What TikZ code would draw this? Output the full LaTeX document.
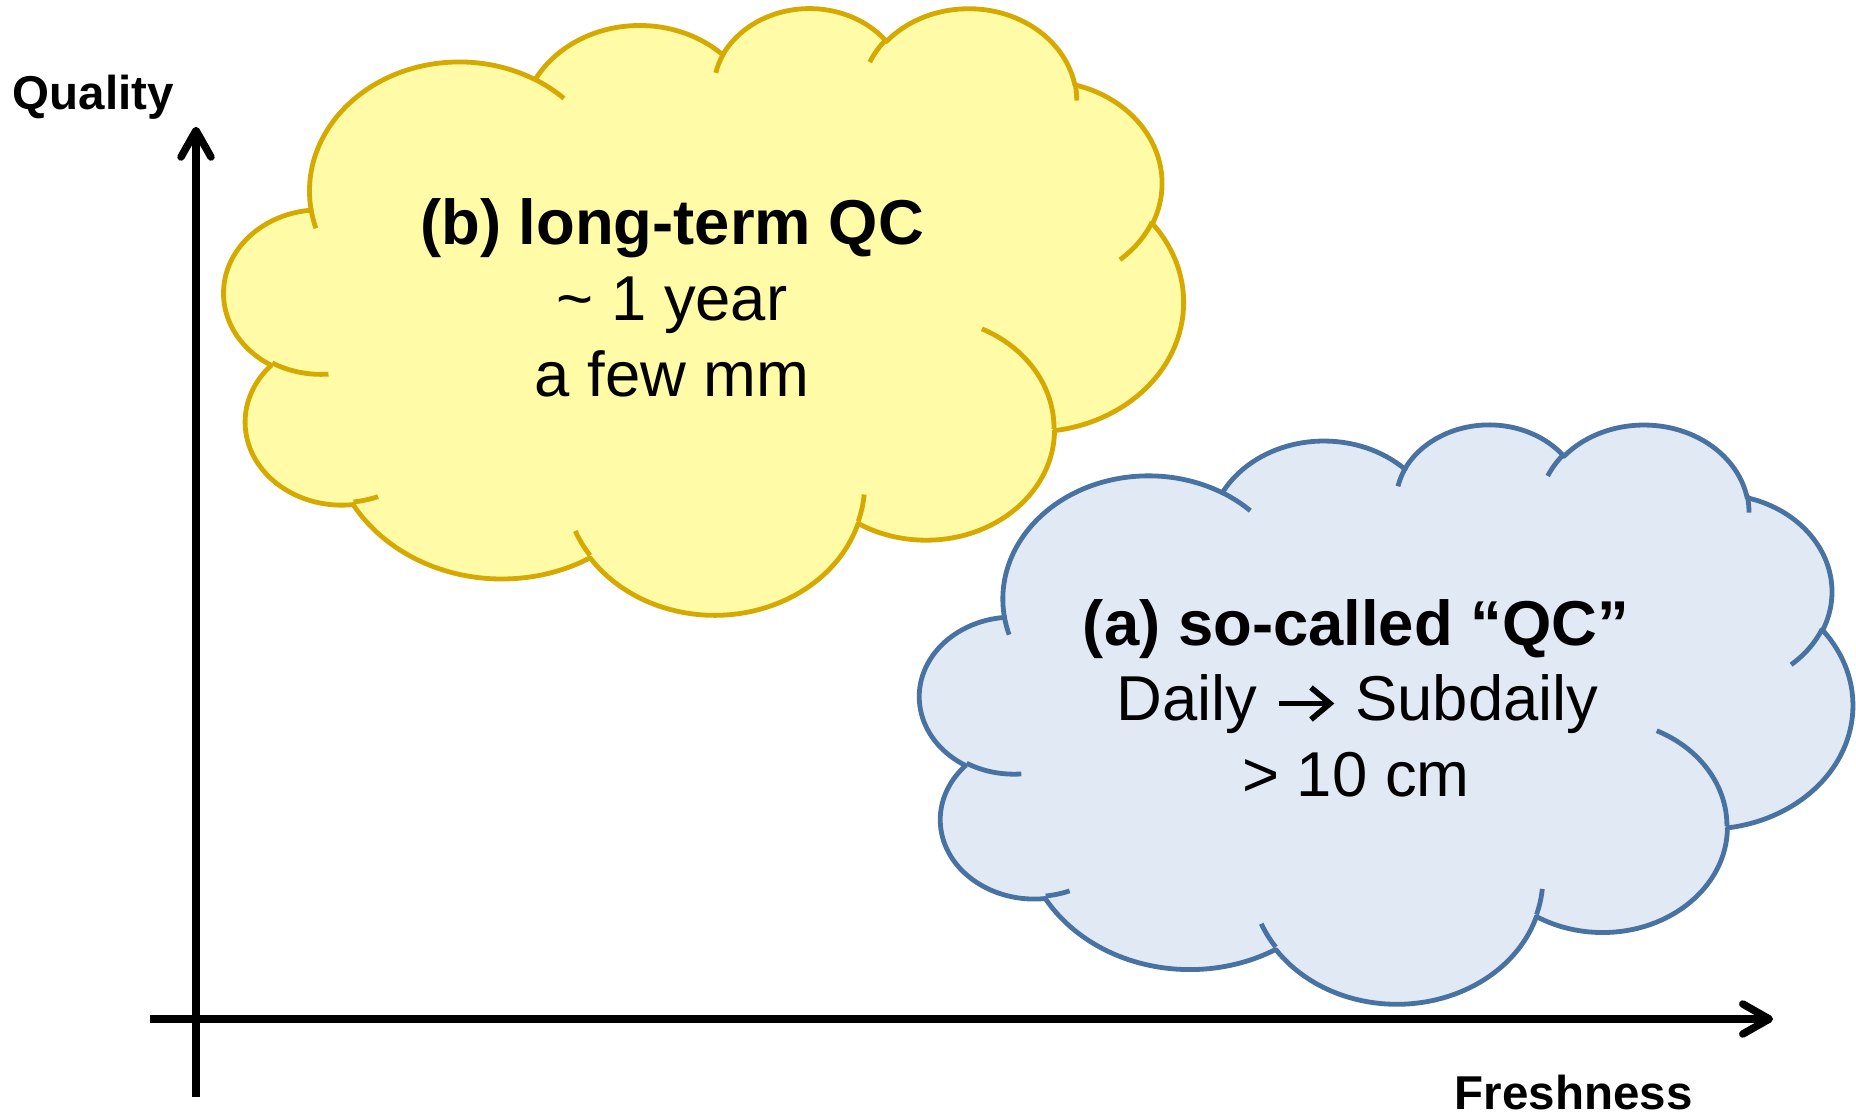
\documentclass[tikz,border=0pt]{standalone}
\usepackage{fontspec}
\setmainfont{Liberation Sans}

\definecolor{yellowfill}{HTML}{FFFBA6}
\definecolor{yellowline}{HTML}{D5A900}
\definecolor{bluefill}{HTML}{E1E9F4}
\definecolor{blueline}{HTML}{4872A2}

% The cloud outline is a chain of elliptic arcs whose angles are given as
% directions seen from the ellipse centre; TikZ arcs want parametric angles.
% \setarc<start macro><sweep macro>{x radius}{y radius}{start}{sweep}
\newcommand\setarc[6]{%
  \pgfmathsetmacro\arcS{atan2((#3)*sin(#5),(#4)*cos(#5))}%
  \pgfmathsetmacro\arcE{atan2((#3)*sin((#5)+(#6)),(#4)*cos((#5)+(#6)))}%
  \pgfmathsetmacro#2{mod((\arcE)-(\arcS)+720,360)}%
  \let#1\arcS}

% outline arcs (cloud box is 4320 x 4320 units)
\setarc\csA\cdA{675.3}{919}{-190.48748}{123.78053}
\setarc\csB\cdB{533.3}{726.7}{-144.10238}{89.94523}
\setarc\csC\cdC{436.5}{594.5}{-145.80792}{99.72302}
\setarc\csD\cdD{485.7}{659.5}{-130.98607}{117.24173}
\setarc\csE\cdE{533.3}{727.3}{-78.70888}{109.02692}
\setarc\csF\cdF{677.5}{922}{-46.26725}{130.269}
\setarc\csG\cdG{578.5}{786.7}{0.62502}{114.03333}
\setarc\csH\cdH{675.2}{921.5}{22.4516}{115.17255}
\setarc\csI\cdI{772}{1054.3}{66.24263}{75.71102}
\setarc\csJ\cdJ{436}{591.8}{-274.94208}{146.73557}
\setarc\csK\cdK{434.5}{594.5}{-246.8285}{152.51885}
% short inner strokes where the puffs meet
\setarc\hsA\hdA{434.5}{594.5}{86.742}{26.4295}
\setarc\hsB\hdB{436}{591.8}{73.61047}{11.44747}
\setarc\hsC\hdC{675.2}{921.5}{137.62415}{14.0811}
\setarc\hsD\hdD{675.2}{921.5}{6.45327}{15.99835}
\setarc\hsE\hdE{578.5}{786.7}{-70.29235}{70.91737}
\setarc\hsF\hdF{533.3}{727.3}{30.31803}{27.7515}
\setarc\hsG\hdG{485.7}{659.5}{-13.74433}{14.8589}
\setarc\hsH\hdH{485.7}{659.5}{-149.18145}{18.19537}
\setarc\hsI\hdI{436.5}{594.5}{-163.49427}{17.68635}
\setarc\hsJ\hdJ{675.3}{919}{-66.70695}{12.31935}
\setarc\hsK\hdK{675.3}{919}{157.65435}{11.85817}

% \qccloud{fill colour}{line colour}, drawn in the cloud's own unit box
\newcommand\qccloud[2]{%
  \filldraw[cloud line, fill=#1, draw=#2] (390,1437)
    arc[x radius=675.3, y radius=919,    start angle=\csA, delta angle=\cdA]
    arc[x radius=533.3, y radius=726.7,  start angle=\csB, delta angle=\cdB]
    arc[x radius=436.5, y radius=594.5,  start angle=\csC, delta angle=\cdC]
    arc[x radius=485.7, y radius=659.5,  start angle=\csD, delta angle=\cdD]
    arc[x radius=533.3, y radius=727.3,  start angle=\csE, delta angle=\cdE]
    arc[x radius=677.5, y radius=922,    start angle=\csF, delta angle=\cdF]
    arc[x radius=578.5, y radius=786.7,  start angle=\csG, delta angle=\cdG]
    arc[x radius=675.2, y radius=921.5,  start angle=\csH, delta angle=\cdH]
    arc[x radius=772,   y radius=1054.3, start angle=\csI, delta angle=\cdI]
    arc[x radius=436,   y radius=591.8,  start angle=\csJ, delta angle=\cdJ]
    arc[x radius=434.5, y radius=594.5,  start angle=\csK, delta angle=\cdK]
    -- cycle;
  \draw[cloud line, draw=#2]
    (469.3,2617.7) arc[x radius=434.5, y radius=594.5, start angle=\hsA, delta angle=\hdA]
    (692.8,3489.9) arc[x radius=436,   y radius=591.8, start angle=\hsB, delta angle=\hdB]
    (1647.8,3909)  arc[x radius=675.2, y radius=921.5, start angle=\hsC, delta angle=\hdC]
    (2882.7,3475.1) arc[x radius=675.2, y radius=921.5, start angle=\hsD, delta angle=\hdD]
    (3412.9,2295.4) arc[x radius=578.5, y radius=786.7, start angle=\hsE, delta angle=\hdE]
    (4179.8,1535.4) arc[x radius=533.3, y radius=727.3, start angle=\hsF, delta angle=\hdF]
    (3832.4,542.6) arc[x radius=485.7, y radius=659.5, start angle=\hsG, delta angle=\hdG]
    (2907.8,395.2) arc[x radius=485.7, y radius=659.5, start angle=\hsH, delta angle=\hdH]
    (2214.1,472)   arc[x radius=436.5, y radius=594.5, start angle=\hsI, delta angle=\hdI]
    (1400,519.2)   arc[x radius=675.3, y radius=919,   start angle=\hsJ, delta angle=\hdJ]
    (412.7,1578.9) arc[x radius=675.3, y radius=919,   start angle=\hsK, delta angle=\hdK];
}

\newcommand\qcaxisfont{\fontsize{47.5}{57}\selectfont\bfseries}
\newcommand\qcbody{\fontsize{63.4}{76}\selectfont}

\tikzset{
  cloud line/.style={line width=4.8pt, line join=round},
  axis line/.style={line width=7.5pt},
  axis tip/.style={line width=7.5pt, line cap=round, line join=round},
  text arrow/.style={line width=5.6pt, line join=miter},
  axis name/.style={font=\qcaxisfont, anchor=base, inner sep=0pt},
  cloud text/.style={font=\qcbody, anchor=base, inner sep=0pt},
}

\begin{document}
\begin{tikzpicture}[x=1pt, y=-1pt]
  \path[fill=white, use as bounding box] (0,0) rectangle (1856,1116);

  % axes
  \coordinate (yfoot) at (196,1097);
  \coordinate (ytip)  at (196,130.5);
  \coordinate (xfoot) at (150,1019);
  \coordinate (xtip)  at (1769.3,1019);
  \draw[axis line] (xfoot) -- (xtip);
  \draw[axis tip] (xtip) ++(-26.5,-15) -- (xtip) -- ++(-26.5,15);
  \draw[axis line] (yfoot) -- (ytip);
  \draw[axis tip] (ytip) ++(-15,26.5) -- (ytip) -- ++(15,26.5);
  \node[axis name] (quality)   at (93.3,110)    {Quality};
  \node[axis name] (freshness) at (1573.7,1109) {Freshness};

  % long-term cloud
  \begin{scope}[shift={(224.3,6.6)}, x=0.22197pt, y=-0.14039pt]
    \qccloud{yellowfill}{yellowline}
  \end{scope}
  % so-called QC cloud
  \begin{scope}[shift={(920,423)}, x=0.21586pt, y=-0.13407pt]
    \qccloud{bluefill}{blueline}
  \end{scope}

  \node[cloud text, font=\qcbody\bfseries] (btitle) at (672,244) {(b) long-term QC};
  \node[cloud text] (bspan)  at (672,320) {\textasciitilde\ 1 year};
  \node[cloud text] (bsize)  at (672,396) {a few mm};

  \node[cloud text, font=\qcbody\bfseries] (atitle) at (1356,645) {(a) so-called “QC”};
  \node[cloud text, anchor=base east] (daily)    at (1257.5,720) {Daily};
  \node[cloud text, anchor=base west] (subdaily) at (1355,720)   {Subdaily};
  \node[cloud text] (asize)  at (1356,796) {> 10 cm};

  % arrow between the two sampling rates
  \coordinate (rateA) at ([xshift=21pt, yshift=16.5pt]daily.base east);
  \coordinate (rateB) at ([xshift=-25pt, yshift=16.5pt]subdaily.base west);
  \draw[text arrow] (rateA) -- (rateB);
  \draw[text arrow] (rateB) ++(-19,-16) -- (rateB) -- ++(-19,16);
\end{tikzpicture}
\end{document}
